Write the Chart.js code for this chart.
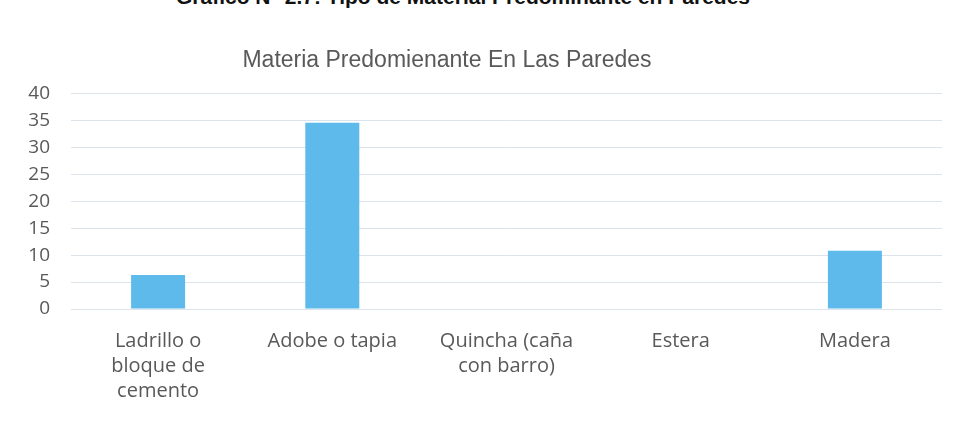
<!DOCTYPE html>
<html>
<head>
<meta charset="utf-8">
<script src="https://cdn.jsdelivr.net/npm/chart.js@4"></script>
<style>
  html, body { margin: 0; padding: 0; background: #fff; overflow: hidden; }
  body { width: 962px; height: 424px; position: relative; }
  #heading {
    position: absolute; left: 0; width: 926px; top: -14px;
    text-align: center; font: bold 21px "Liberation Sans", Arial, sans-serif;
    color: #111; line-height: 21px; white-space: nowrap;
  }
  #box { position: absolute; left: -48px; top: 0; width: 990px; height: 424px; }
</style>
</head>
<body>
<div id="heading">Gráfico N° 2.7: Tipo de Material Predominante en Paredes</div>
<div id="box"><canvas id="myChart"></canvas></div>
<script>
let labels = [['Ladrillo o', 'bloque de', 'cemento'], 'Adobe o tapia', ['Quincha (caña', 'con barro)'], 'Estera', 'Madera'];
let values = [6.3, 34.6, 0, 0, 10.8];
let barColor = '#5DBAEB';

let ctx = document.getElementById("myChart").getContext('2d');

let chart = new Chart(ctx, {
    type: 'bar',
    data: {
        labels: labels,
        datasets: [{
            data: values,
            backgroundColor: barColor,
            barPercentage: 0.31,
            categoryPercentage: 1
        }]
    },
    options: {
        responsive: true,
        maintainAspectRatio: false,
        animation: false,
        layout: { padding: { left: 0, right: 0, top: 0, bottom: 0 } },
        plugins: {
            legend: { display: false },
            tooltip: { enabled: false },
            title: {
                display: true,
                text: 'Materia Predomienante En Las Paredes',
                color: '#595959',
                font: { family: '"Liberation Sans", Arial, sans-serif', size: 23, weight: 'normal' },
                padding: { top: 47, bottom: 19 }
            }
        },
        scales: {
            x: {
                grid: { display: false, drawTicks: false },
                border: { display: false },
                ticks: {
                    color: '#595959',
                    font: { family: '"Open Sans", sans-serif', size: 20, lineHeight: '25px' },
                    padding: 20,
                    maxRotation: 0,
                    autoSkip: false
                }
            },
            y: {
                min: 0,
                max: 40,
                afterFit: function (scale) { scale.width = 119; },
                grid: { color: '#dde3ea', drawTicks: false },
                border: { display: false },
                ticks: {
                    stepSize: 5,
                    color: '#595959',
                    font: { family: '"Open Sans", sans-serif', size: 19 },
                    padding: 21
                }
            }
        }
    }
});
</script>
</body>
</html>
